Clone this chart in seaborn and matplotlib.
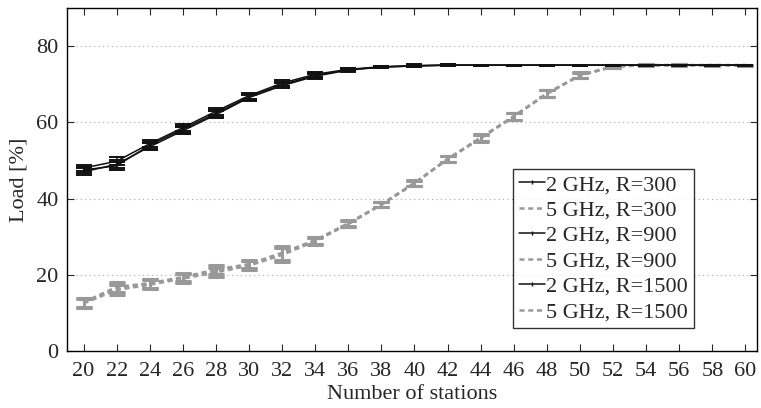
import numpy as np
import pandas as pd
import matplotlib
matplotlib.use("Agg")
import matplotlib.pyplot as plt
import seaborn as sns
from matplotlib.lines import Line2D

stations = [20, 22, 24, 26, 28, 30, 32, 34, 36, 38, 40, 42, 44, 46, 48, 50, 52, 54, 56, 58, 60]

load_2g_300 = [47.0, 49.0, 53.6, 57.8, 62.0, 66.5, 69.6, 72.1, 73.7, 74.5, 74.8, 75.0, 75.0, 75.0, 75.0, 75.0, 75.0, 75.0, 75.0, 75.0, 75.0]
load_2g_900 = [48.0, 49.8, 54.4, 58.6, 62.9, 67.0, 70.3, 72.6, 73.9, 74.6, 74.9, 75.0, 75.0, 75.0, 75.0, 75.0, 75.0, 75.0, 75.0, 75.0, 75.0]
load_2g_1500 = [47.5, 48.6, 54.0, 58.2, 62.4, 66.7, 69.9, 72.3, 73.8, 74.5, 74.8, 75.0, 75.0, 75.0, 75.0, 75.0, 75.0, 75.0, 75.0, 75.0, 75.0]
load_5g_300 = [12.5, 16.0, 17.4, 19.0, 20.6, 22.4, 25.2, 28.8, 33.3, 38.4, 44.0, 50.3, 55.8, 61.5, 67.5, 72.3, 74.6, 75.0, 75.0, 75.0, 75.0]
load_5g_900 = [12.8, 16.8, 17.8, 19.4, 21.4, 22.8, 25.8, 29.1, 33.5, 38.5, 44.1, 50.4, 56.0, 61.6, 67.6, 72.4, 74.7, 75.0, 75.0, 75.0, 75.0]
load_5g_1500 = [12.6, 16.4, 17.6, 19.2, 21.0, 22.6, 25.5, 29.0, 33.4, 38.4, 44.0, 50.3, 55.9, 61.5, 67.5, 72.3, 74.6, 75.0, 75.0, 75.0, 75.0]

err_2g = [0.9, 1.0, 0.9, 0.9, 0.9, 0.8, 0.7, 0.6, 0.4, 0.3, 0.3, 0.2, 0.1, 0.1, 0.1, 0.1, 0.1, 0.1, 0.1, 0.1, 0.1]
err_5g = [1.2, 1.3, 1.2, 1.1, 1.2, 1.1, 1.8, 0.9, 0.8, 0.7, 0.7, 0.8, 0.9, 0.9, 0.9, 0.7, 0.4, 0.3, 0.2, 0.1, 0.1]

labels = ["2 GHz, R=300", "5 GHz, R=300", "2 GHz, R=900", "5 GHz, R=900", "2 GHz, R=1500", "5 GHz, R=1500"]
series = [load_2g_300, load_5g_300, load_2g_900, load_5g_900, load_2g_1500, load_5g_1500]
x_ticks = list(range(20, 61, 2))
y_ticks = [0, 20, 40, 60, 80]

sns.set_style("ticks")
plt.rcParams["font.family"] = ["Liberation Serif", "DejaVu Serif"]

fig = plt.figure(figsize=(7.61, 4.08), dpi=100)
ax = fig.add_axes([67 / 761, 1 - 351 / 408, (757 - 67) / 761, (351 - 8) / 408])

BLACK = "#111111"
GRAY = "#999999"
DASH = (0, (2.0, 1.5))

for y in [20, 40, 60, 80]:
    ax.axhline(y, color="#aaaaaa", linestyle=(0, (1, 3)), linewidth=0.8, zorder=0)

handles = []
for lab, vals in zip(labels, series):
    is2 = lab.startswith("2")
    color = BLACK if is2 else GRAY
    err = err_2g if is2 else err_5g
    df = pd.DataFrame({"x": stations, "y": vals})
    sns.lineplot(data=df, x="x", y="y", ax=ax, color=color,
                 linewidth=1.1 if is2 else 1.8,
                 linestyle="-" if is2 else DASH, zorder=3 if is2 else 2)
    ax.errorbar(stations, vals, yerr=err, fmt="none", ecolor=color,
                elinewidth=1.1 if is2 else 1.8, capsize=6, capthick=1.4 if is2 else 2.2,
                zorder=3 if is2 else 2)
    handles.append(Line2D([0], [0], color=color, linewidth=1.1 if is2 else 1.8,
                          linestyle="-" if is2 else DASH,
                          marker="|" if is2 else None, markersize=3.5, markeredgewidth=1.0))

FS = 16
ax.set_xlim(19, 60.7)
ax.set_ylim(0, 90)
ax.set_xticks(x_ticks)
ax.set_yticks(y_ticks)
ax.tick_params(direction="in", top=True, right=True, labelsize=FS, length=5, width=0.8, pad=6)
ax.tick_params(axis="x", pad=8)
for s in ax.spines.values():
    s.set_linewidth(1.0)
    s.set_color("black")
ax.set_xlabel("Number of stations", fontsize=FS, labelpad=3)
ax.set_ylabel("Load [%]", fontsize=FS, labelpad=6)

leg = ax.legend(handles, labels, loc="upper left", bbox_to_anchor=((513 - 67) / 690, 1 - (169 - 8) / 343),
                fontsize=FS, frameon=True, fancybox=False, edgecolor="black",
                handlelength=1.2, handletextpad=0.05, borderpad=0.25, labelspacing=0.22,
                borderaxespad=0)
leg.get_frame().set_linewidth(1.0)

fig.savefig("out.png", dpi=100)
